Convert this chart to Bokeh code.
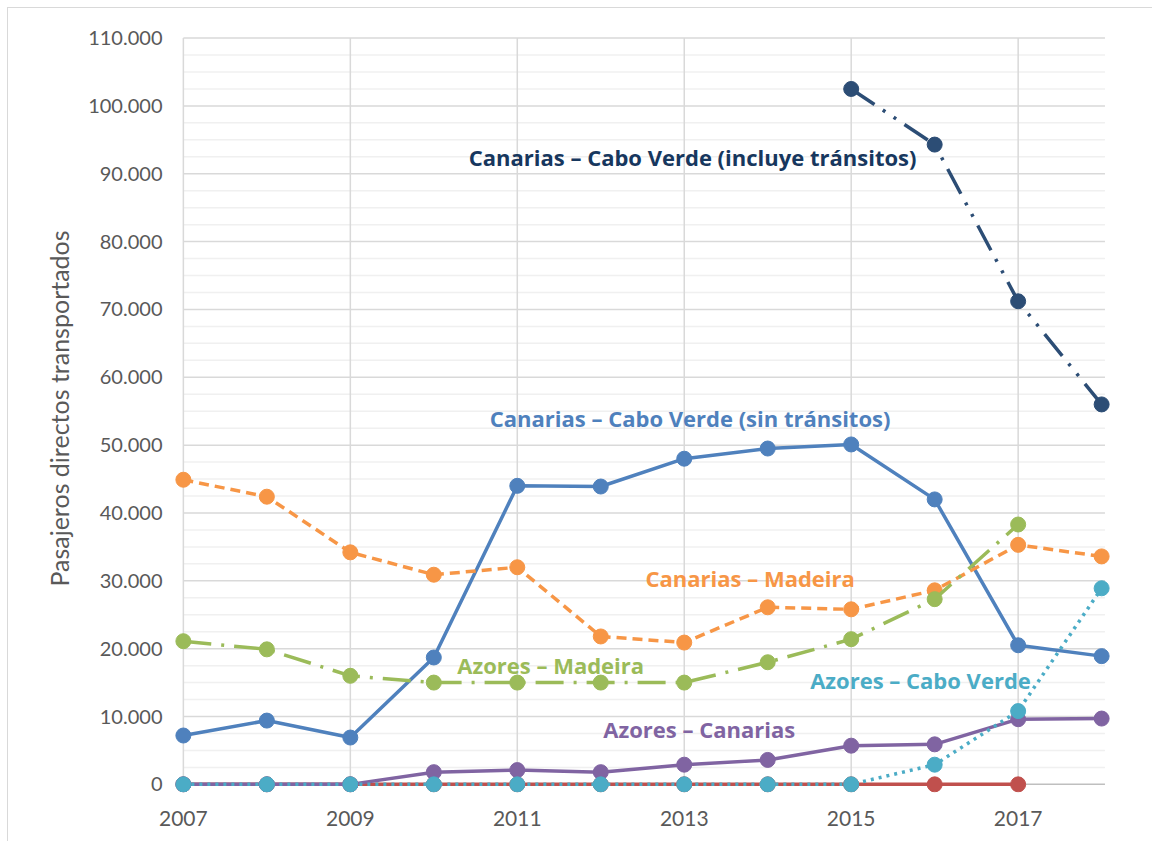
from bokeh.plotting import figure
from bokeh.models import FixedTicker, ColumnDataSource, Range1d
from bokeh.core.properties import value
from bokeh.embed import file_html
from bokeh.resources import INLINE

nan = float("nan")

# ---- data ----
years = [2007, 2008, 2009, 2010, 2011, 2012, 2013, 2014, 2015, 2016, 2017, 2018]
canarias_cv_incluye = [nan, nan, nan, nan, nan, nan, nan, nan, 102500, 94300, 71200, 56000]
canarias_cv_sin = [7200, 9400, 6900, 18700, 44000, 43900, 48000, 49500, 50100, 42000, 20500, 18900]
canarias_madeira = [44900, 42400, 34200, 30900, 32000, 21800, 20900, 26100, 25800, 28600, 35300, 33600]
azores_madeira = [21100, 19900, 16000, 15000, 15000, 15000, 15000, 18000, 21400, 27300, 38300, nan]
azores_canarias = [0, 0, 0, 1800, 2100, 1800, 2900, 3600, 5700, 5900, 9600, 9700]
azores_cabo_verde = [0, 0, 0, 0, 0, 0, 0, 0, 0, 2900, 10800, 28900]
otra_ruta = [0, 0, 0, 0, 0, 0, 0, 0, 0, 0, 0, nan]

x_ticks = [2007, 2009, 2011, 2013, 2015, 2017]
y_ticks = list(range(0, 110001, 10000))
y_minor = [v for v in range(2500, 110000, 2500) if v % 10000 != 0]

labels = [
    "Canarias – Cabo Verde (incluye tránsitos)",
    "Canarias – Cabo Verde (sin tránsitos)",
    "Canarias – Madeira",
    "Azores – Madeira",
    "Azores – Cabo Verde",
    "Azores – Canarias",
]

# ---- styling / positions ----
label_x = [2013.10, 2013.07, 2013.79, 2011.40, 2015.83, 2013.18]
label_y = [92400, 53930, 30360, 17540, 15330, 8100]
label_colors = ["#17375E", "#4F81BD", "#F79646", "#9BBB59", "#4BACC6", "#8064A2"]

FONT = "Lato"
LABEL_FONT = "Open Sans"
GRAY_TXT = "#595959"

p = figure(
    width=1152, height=841,
    x_range=Range1d(2006.75, 2018.25),
    y_range=Range1d(-1200, 112000),
    output_backend="svg", toolbar_location=None,
    min_border_left=162, min_border_right=30,
    min_border_top=24, min_border_bottom=49,
    background_fill_color="white", border_fill_alpha=0,
)
# chart-area border (light gray frame line at 7px from the page edge)
p.styles = {
    "background": "linear-gradient(#D9D9D9, #D9D9D9) 7px 7px / 1px 100% no-repeat, "
                  "linear-gradient(#D9D9D9, #D9D9D9) 7px 7px / 100% 1px no-repeat, white",
}
p.outline_line_color = None
p.xgrid.visible = False
p.ygrid.visible = False

# gridlines (drawn manually so markers may overflow the plot area)
x_left, x_right = years[0], years[-1] + 0.04
p.segment(x0=[x_left] * len(y_minor), x1=[x_right] * len(y_minor), y0=y_minor, y1=y_minor,
          line_color="#F0F0F0", line_width=1.5)
p.segment(x0=[x_left] * (len(y_ticks) - 1), x1=[x_right] * (len(y_ticks) - 1),
          y0=y_ticks[1:], y1=y_ticks[1:], line_color="#D9D9D9", line_width=1.5)
p.segment(x0=x_ticks, x1=x_ticks, y0=[0] * len(x_ticks), y1=[y_ticks[-1]] * len(x_ticks),
          line_color="#D9D9D9", line_width=1.5)
p.segment(x0=[x_left], x1=[x_right], y0=[0], y1=[0], line_color="#BFBFBF", line_width=1.5)

src = ColumnDataSource(dict(
    x=years, inc=canarias_cv_incluye, sin=canarias_cv_sin, cm=canarias_madeira,
    am=azores_madeira, ac=azores_canarias, acv=azores_cabo_verde, otra=otra_ruta,
))

LW = 3.5
MS = 15

def series(col, color, dash="solid"):
    p.line("x", col, source=src, line_color=color, line_width=LW, line_dash=dash)
    p.scatter("x", col, source=src, size=MS, fill_color=color, line_color=color, line_width=1)

series("sin", "#4F81BD")
series("cm", "#F79646", "10 6")
series("am", "#9BBB59", "28 10 3 10")
series("otra", "#C0504D")
series("ac", "#8064A2")
series("acv", "#4BACC6", "3 5")
series("inc", "#2C4D75", "28 10 3 10 3 10")

# series labels
p.text(x=label_x, y=label_y, text=labels, text_color=label_colors,
       text_font=value(LABEL_FONT), text_font_style="bold", text_font_size="22px",
       text_align="center", text_baseline="middle")

# axes
p.xaxis.ticker = FixedTicker(ticks=x_ticks)
p.xaxis.axis_line_color = None
p.xaxis.major_tick_line_color = None
p.xaxis.minor_tick_line_color = None
p.xaxis.major_label_text_font = FONT
p.xaxis.major_label_text_font_size = "21px"
p.xaxis.major_label_text_color = GRAY_TXT
p.xaxis.major_label_standoff = 12

p.yaxis.ticker = FixedTicker(ticks=y_ticks)
p.yaxis.major_label_overrides = {v: f"{v:,}".replace(",", ".") for v in y_ticks}
p.yaxis.axis_line_color = None
p.yaxis.major_tick_line_color = None
p.yaxis.minor_tick_line_color = None
p.yaxis.major_label_text_font = FONT
p.yaxis.major_label_text_font_size = "20px"
p.yaxis.major_label_text_color = GRAY_TXT
p.yaxis.major_label_standoff = -6
p.yaxis.axis_label = "Pasajeros directos transportados"
p.yaxis.axis_label_text_font = FONT
p.yaxis.axis_label_text_font_style = "normal"
p.yaxis.axis_label_text_font_size = "25px"
p.yaxis.axis_label_text_color = GRAY_TXT
p.yaxis.axis_label_standoff = 11

open("out.html", "w").write(file_html(p, INLINE))
